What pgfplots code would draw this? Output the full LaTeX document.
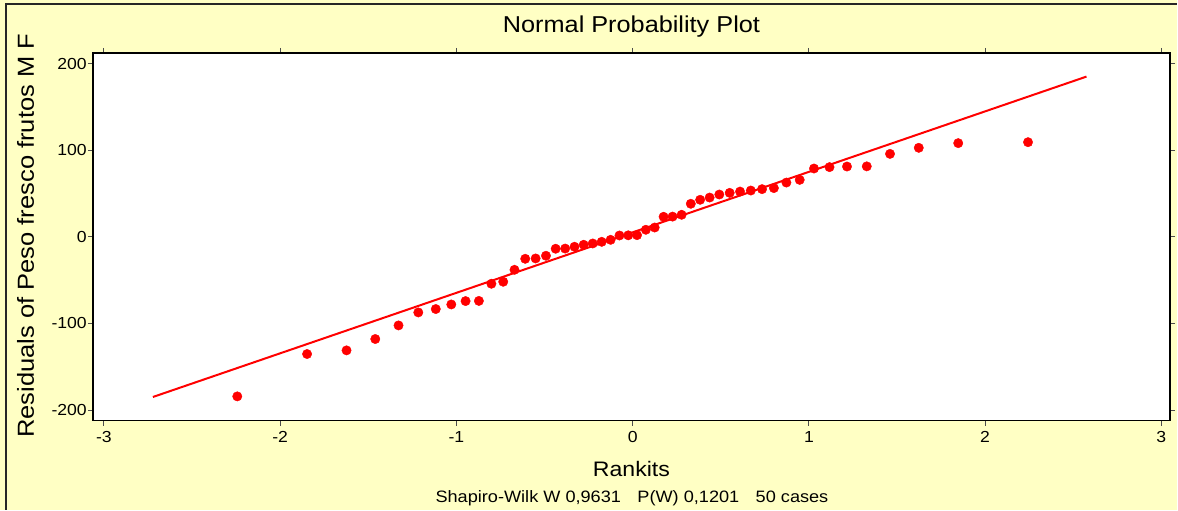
\documentclass[border=0pt]{standalone}
\usepackage{pgfplots}
\pgfplotsset{compat=1.18}
\usepackage{fontspec}
\setmainfont{Liberation Sans}[FakeStretch=1.1]
\definecolor{bgyellow}{RGB}{255,255,196}
\definecolor{ptred}{RGB}{255,0,0}
\pgfplotstableread{
x y
-2.2433 -184.2
-1.8473 -135.3
-1.6234 -131.1
-1.4603 -118.0
-1.3284 -102.3
-1.2162 -87.3
-1.1170 -83.4
-1.0289 -78.1
-0.9479 -74.2
-0.8724 -74.0
-0.8014 -54.2
-0.7343 -51.9
-0.6704 -38.1
-0.6094 -25.4
-0.5506 -25.0
-0.4918 -21.9
-0.4368 -13.8
-0.3829 -13.6
-0.3300 -11.5
-0.2779 -9.2
-0.2265 -7.7
-0.1756 -5.8
-0.1250 -3.5
-0.0749 1.5
-0.0249 1.7
0.0249 1.9
0.0749 8.1
0.1250 10.7
0.1756 23.1
0.2265 23.3
0.2779 25.4
0.3300 38.1
0.3829 42.7
0.4368 45.3
0.4918 48.8
0.5506 50.7
0.6094 52.2
0.6704 53.4
0.7343 55.0
0.8014 56.2
0.8724 62.6
0.9479 65.7
1.0289 78.8
1.1170 80.4
1.2162 81.1
1.3284 81.3
1.4603 95.7
1.6234 102.7
1.8473 108.1
2.2433 109.2
}\residuals
\begin{document}
\begin{tikzpicture}[x=1pt,y=1pt]
\fill[bgyellow] (0,0) rectangle (1178,510);
\draw[line width=2pt, black!85] (6,0) -- (6,506) -- (1178,506);
\begin{axis}[at={(93pt,89pt)}, anchor=south west,
  width=1078pt, height=368pt, scale only axis,
  xmin=-3.0624, xmax=3.049, ymin=-212.2, ymax=212.2,
  axis background/.style={fill=white},
  axis line style={line width=1.2pt, black},
  tick align=outside, major tick length=5pt,
  tick style={line width=0.9pt, black!70},
  xtick={-3,-2,-1,0,1,2,3}, ytick={-200,-100,0,100,200},
  xticklabels={{-3},{-2},{-1},{0},{1},{2},{3}},
  yticklabels={{-200},{-100},{0},{100},{200}},
  yticklabel style={font=\fontsize{16}{18}\selectfont, anchor=east, inner sep=0pt, xshift=-1pt},
  xticklabel style={font=\fontsize{16}{18}\selectfont, anchor=north, inner sep=0pt, yshift=-6pt},
  clip=false,
]
\addplot[only marks, mark=*, mark size=4.7pt, color=ptred, mark options={draw=none, fill=ptred}] table[x=x, y=y] {\residuals};
\addplot[ptred, line width=2pt] coordinates {(-2.722,-184.9) (2.575,184.9)};
\end{axis}
\node[anchor=base] at (632,477) {\fontsize{23}{26}\selectfont Normal Probability Plot};
\node[anchor=base] at (632,33) {\fontsize{21}{24}\selectfont Rankits};
\node[anchor=base] at (632.5,7) {\fontsize{16.5}{19}\selectfont Shapiro-Wilk W 0,9631\hspace{1em}P(W) 0,1201\hspace{1em}50 cases};
\node[anchor=base, rotate=90] at (34,274) {\fontsize{23.2}{26}\selectfont Residuals of Peso fresco frutos M F};
\end{tikzpicture}
\end{document}
